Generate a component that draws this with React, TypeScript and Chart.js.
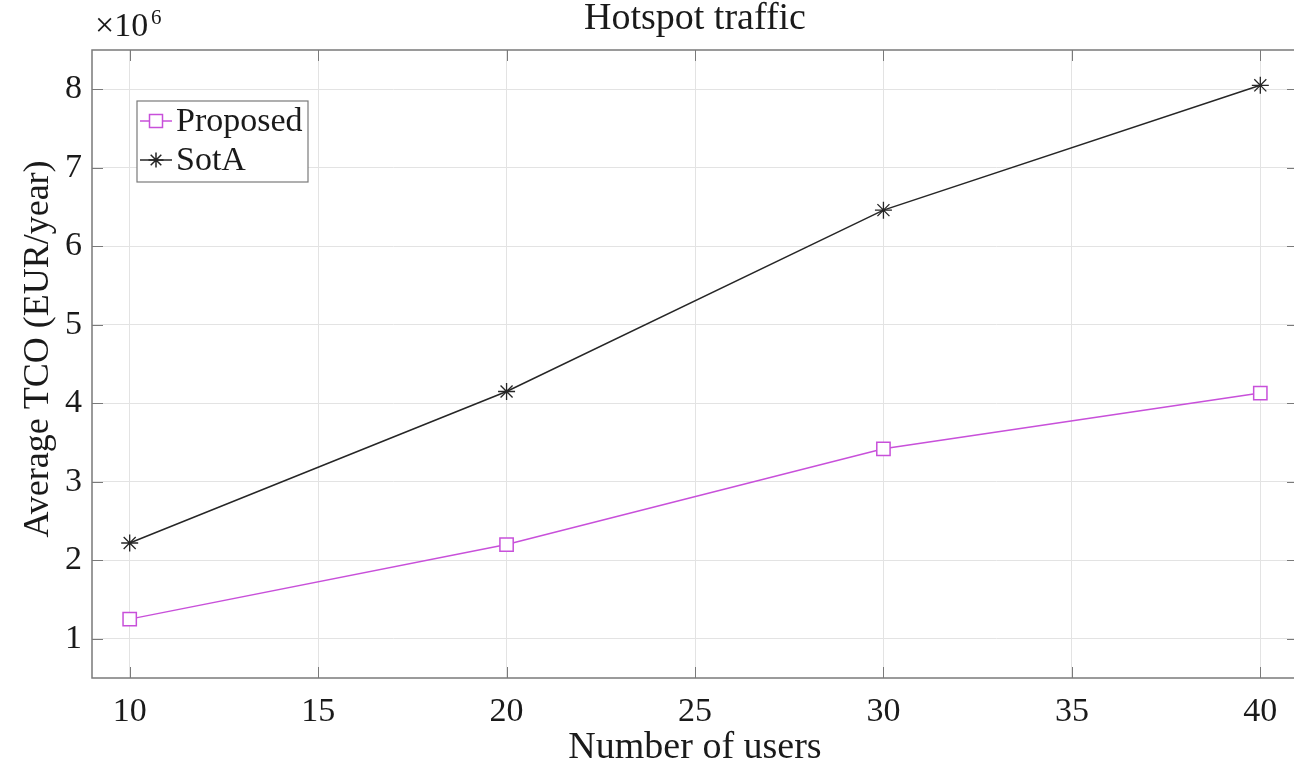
import React, { useEffect, useRef } from "react";
import { Chart, registerables } from "chart.js";

Chart.register(...registerables);

const users = [10, 20, 30, 40];
const proposedTCO = [1.25e6, 2.2e6, 3.42e6, 4.13e6];
const sotaTCO = [2.22e6, 4.15e6, 6.46e6, 8.05e6];
const xTickValues = [10, 15, 20, 25, 30, 35, 40];
const yTickValues = [1e6, 2e6, 3e6, 4e6, 5e6, 6e6, 7e6, 8e6];
const seriesNames = ["Proposed", "SotA"];
const chartTitle = "Hotspot traffic";
const xAxisTitle = "Number of users";
const yAxisTitle = "Average TCO (EUR/year)";

const MAGENTA = "#c850da";
const DARK = "#262626";
const FONT = "'Liberation Serif', 'Times New Roman', serif";
const BOX = "#7a7a7a";

function drawStar(ctx: CanvasRenderingContext2D, x: number, y: number, r: number) {
  ctx.beginPath();
  for (let k = 0; k < 4; k++) {
    const a = (k * Math.PI) / 4;
    ctx.moveTo(x - Math.cos(a) * r, y - Math.sin(a) * r);
    ctx.lineTo(x + Math.cos(a) * r, y + Math.sin(a) * r);
  }
  ctx.stroke();
}

const framePlugin = {
  id: "frame",
  afterDraw(chart: any) {
    const ctx: CanvasRenderingContext2D = chart.ctx;
    const { left, right, top, bottom } = chart.chartArea;
    const xs = chart.scales.x;
    const ys = chart.scales.y;
    ctx.save();
    // box
    ctx.strokeStyle = BOX;
    ctx.lineWidth = 1.5;
    ctx.strokeRect(left, top, right - left, bottom - top);
    // inner ticks
    const tl = 11;
    ctx.beginPath();
    xTickValues.forEach((v) => {
      const px = Math.round(xs.getPixelForValue(v)) + 0.5;
      ctx.moveTo(px, bottom);
      ctx.lineTo(px, bottom - tl);
      ctx.moveTo(px, top);
      ctx.lineTo(px, top + tl);
    });
    yTickValues.forEach((v) => {
      const py = Math.round(ys.getPixelForValue(v)) + 0.5;
      ctx.moveTo(left, py);
      ctx.lineTo(left + tl, py);
      ctx.moveTo(right, py);
      ctx.lineTo(right - tl, py);
    });
    ctx.lineWidth = 1;
    ctx.stroke();

    // title
    ctx.fillStyle = "#1a1a1a";
    ctx.font = `38px ${FONT}`;
    ctx.textAlign = "center";
    ctx.textBaseline = "alphabetic";
    ctx.fillText(chartTitle, (left + right) / 2, 29);

    // x axis title
    ctx.fillText(xAxisTitle, (left + right) / 2, 758);

    // y axis title
    ctx.font = `36px ${FONT}`;
    ctx.save();
    ctx.translate(48, 349);
    ctx.rotate(-Math.PI / 2);
    ctx.fillText(yAxisTitle, 0, 0);
    ctx.restore();

    // exponent
    ctx.textAlign = "left";
    ctx.font = `34px ${FONT}`;
    ctx.fillText("\u00d710", 95, 36);
    ctx.font = `21px ${FONT}`;
    ctx.fillText("6", 151, 24);

    // legend
    const lx = 137, ly = 101, lw = 171, lh = 81;
    ctx.fillStyle = "#ffffff";
    ctx.fillRect(lx, ly, lw, lh);
    ctx.strokeStyle = BOX;
    ctx.lineWidth = 1.2;
    ctx.strokeRect(lx, ly, lw, lh);
    const rows = [121, 160];
    const colors = [MAGENTA, DARK];
    rows.forEach((ry, i) => {
      ctx.strokeStyle = colors[i];
      ctx.lineWidth = 1.5;
      ctx.beginPath();
      ctx.moveTo(lx + 3, ry);
      ctx.lineTo(lx + 35, ry);
      ctx.stroke();
      const mx = lx + 19;
      if (i === 0) {
        ctx.fillStyle = "#ffffff";
        ctx.fillRect(mx - 6.5, ry - 6.5, 13, 13);
        ctx.strokeRect(mx - 6.5, ry - 6.5, 13, 13);
      } else {
        drawStar(ctx, mx, ry, 7.5);
      }
      ctx.fillStyle = "#1a1a1a";
      ctx.font = `34px ${FONT}`;
      ctx.textBaseline = "middle";
      ctx.fillText(seriesNames[i], lx + 39, ry + 1);
    });
    ctx.restore();
  },
};

export default function App() {
  const ref = useRef<HTMLCanvasElement | null>(null);
  useEffect(() => {
    if (!ref.current) return;
    const chart = new Chart(ref.current, {
      type: "line",
      data: {
        datasets: [
          {
            label: seriesNames[0],
            data: users.map((u, i) => ({ x: u, y: proposedTCO[i] })),
            borderColor: MAGENTA,
            borderWidth: 1.5,
            pointStyle: "rect",
            pointRadius: 9.4,
            pointBorderColor: MAGENTA,
            pointBackgroundColor: "#ffffff",
            pointBorderWidth: 1.5,
            tension: 0,
          },
          {
            label: seriesNames[1],
            data: users.map((u, i) => ({ x: u, y: sotaTCO[i] })),
            borderColor: DARK,
            borderWidth: 1.5,
            pointStyle: "star",
            pointRadius: 8.5,
            pointBorderColor: DARK,
            pointBackgroundColor: DARK,
            pointBorderWidth: 1.3,
            tension: 0,
          },
        ],
      },
      options: {
        animation: false,
        responsive: false,
        layout: { padding: { left: 0, top: 50, right: 22, bottom: 0 } },
        plugins: {
          legend: { display: false },
          title: { display: false },
          tooltip: { enabled: false },
        },
        scales: {
          x: {
            type: "linear",
            min: 9,
            max: 41,
            afterBuildTicks: (s: any) => {
              s.ticks = xTickValues.map((v) => ({ value: v }));
            },
            afterFit: (s: any) => {
              s.height = 88;
            },
            grid: { color: "#e3e3e3", lineWidth: 1, drawTicks: false },
            border: { display: false },
            ticks: {
              padding: 14,
              color: "#1a1a1a",
              font: { family: FONT, size: 34 },
              maxRotation: 0,
              autoSkip: false,
            },
          },
          y: {
            type: "linear",
            min: 0.5e6,
            max: 8.5e6,
            afterBuildTicks: (s: any) => {
              s.ticks = yTickValues.map((v) => ({ value: v }));
            },
            afterFit: (s: any) => {
              s.width = 92;
            },
            grid: { color: "#e3e3e3", lineWidth: 1, drawTicks: false },
            border: { display: false },
            ticks: {
              padding: 10,
              color: "#1a1a1a",
              font: { family: FONT, size: 34 },
              callback: (v: any) => String(Math.round(Number(v) / 1e6)),
            },
          },
        },
      },
      plugins: [framePlugin],
    } as any);
    return () => chart.destroy();
  }, []);
  return (
    <div
      style={{
        position: "fixed",
        left: 0,
        top: 0,
        width: 1294,
        height: 766,
        overflow: "hidden",
        background: "#ffffff",
      }}
    >
      <canvas ref={ref} width={1320} height={766} style={{ display: "block" }} />
    </div>
  );
}
